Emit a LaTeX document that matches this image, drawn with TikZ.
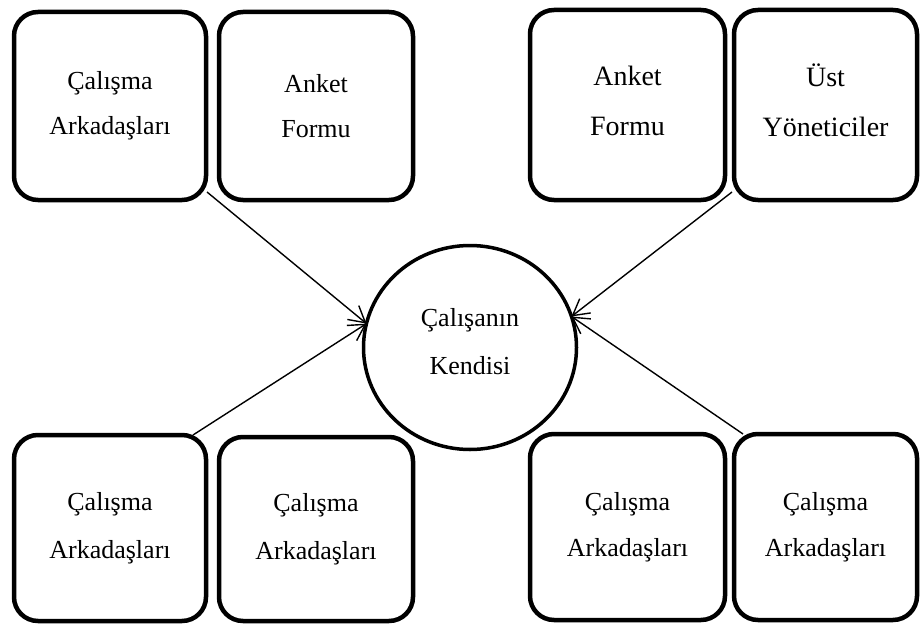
\documentclass[tikz,border=0pt]{standalone}
\usepackage{fontspec}
\setmainfont{Liberation Serif}
\usetikzlibrary{shapes.geometric,arrows.meta}

\begin{document}
\begin{tikzpicture}[x=1pt, y=-1pt,
  kutu/.style={draw, line width=4.5pt, rounded corners=24pt, inner sep=0pt,
    outer sep=0pt, align=center, minimum height=188pt,
    font=\fontsize{26}{45}\selectfont},
  merkez/.style={draw, ellipse, line width=3.5pt, inner sep=0pt, outer sep=0pt,
    minimum width=213pt, minimum height=204pt, align=center, text depth=13pt,
    font=\fontsize{26}{48}\selectfont},
  ok/.style={line width=1.4pt, -{Straight Barb[length=16pt,width=18pt,line width=1.4pt]}}]

  \useasboundingbox (0,0) rectangle (920,626);

  % ust sira
  \node[kutu, minimum width=192pt] (calisma1) at (110,106) {Çalışma\\Arkadaşları};
  \node[kutu, minimum width=194pt] (anket1) at (316,106) {Anket\\Formu};
  \node[kutu, minimum width=195pt, minimum height=190pt, text depth=9pt,
    font=\fontsize{28}{50}\selectfont] (anket2) at (627.5,105) {Anket\\Formu};
  \node[kutu, minimum width=183pt, minimum height=190pt, text depth=9pt,
    font=\fontsize{28}{50}\selectfont] (ust) at (825.5,105) {Üst\\Yöneticiler};

  % orta
  \node[merkez] (self) at (470,347.5) {Çalışanın\\Kendisi};

  % alt sira
  \node[kutu, minimum width=192pt, minimum height=186pt,
    font=\fontsize{26}{48}\selectfont] (calisma2) at (110,528) {Çalışma\\Arkadaşları};
  \node[kutu, minimum width=194pt, minimum height=184pt,
    font=\fontsize{26}{48}\selectfont] (calisma3) at (316,529) {Çalışma\\Arkadaşları};
  \node[kutu, minimum width=195pt, minimum height=186pt,
    font=\fontsize{26}{46}\selectfont] (calisma4) at (627.5,527) {Çalışma\\Arkadaşları};
  \node[kutu, minimum width=183pt, minimum height=186pt,
    font=\fontsize{26}{46}\selectfont] (calisma5) at (825.5,527) {Çalışma\\Arkadaşları};

  \draw[ok] ([xshift=1pt, yshift=8pt]calisma1.south east) -- (self.167); % sol ust
  \draw[ok] ([xshift=-2pt, yshift=8pt]ust.south west) -- (self.17); % sag ust
  \draw[ok] ([xshift=-13pt]calisma2.north east) -- (self.167); % sol alt
  \draw[ok] ([xshift=9pt]calisma5.north west) -- (self.17); % sag alt
\end{tikzpicture}
\end{document}
